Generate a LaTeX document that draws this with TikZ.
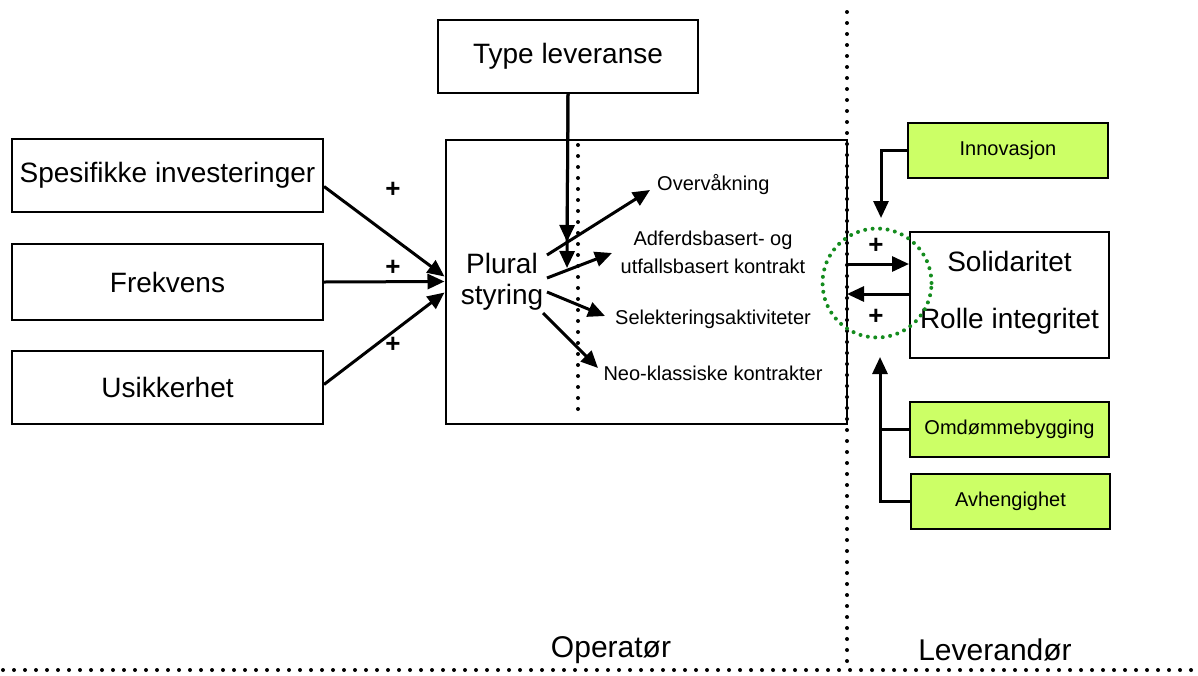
\documentclass[tikz,border=0pt]{standalone}
\usepackage{fontspec}
\setmainfont{Liberation Sans}
\usetikzlibrary{arrows.meta,calc}
\definecolor{limegreen}{RGB}{204,255,102}
\definecolor{dotgreen}{RGB}{20,140,30}
\begin{document}
\begin{tikzpicture}[x=1pt,y=-1pt,
  bigtxt/.style={font=\fontsize{28}{31}\selectfont},
  smalltxt/.style={font=\fontsize{20}{28}\selectfont},
  box/.style={draw,line width=2pt,inner sep=0pt,align=center},
  gbox/.style={box,fill=limegreen,smalltxt},
  arr/.style={line width=3pt,-{Triangle[length=17pt,width=15pt]}},
  conn/.style={line width=3pt},
  dotline/.style={line width=4pt,line cap=round,dash pattern=on 0pt off 11pt},
  plus/.style={font=\fontsize{26}{26}\selectfont\bfseries,inner sep=0pt}]
\useasboundingbox (0,0) rectangle (1198,675);
% dotted separators
\coordinate (vtop) at (847,12);
\coordinate (vbot) at (847,668);
\coordinate (hl) at (3,670);
\coordinate (hr) at (1198,670);
\draw[dotline] (vtop) -- (vbot);
\draw[dotline] (hl) -- (hr);
% left boxes
\node[box,bigtxt,minimum width=311pt,minimum height=73pt] (spes) at (167.5,175.5) {Spesifikke investeringer};
\node[box,bigtxt,minimum width=311pt,minimum height=76pt] (frek) at (167.5,282) {Frekvens};
\node[box,bigtxt,minimum width=311pt,minimum height=73pt] (usik) at (167.5,387.5) {Usikkerhet};
% main box
\node[box,minimum width=401pt,minimum height=284pt] (main) at (646,281.5) {};
\node[box,bigtxt,minimum width=260pt,minimum height=73pt] (type) at (568,56.5) {Type leveranse};
% inner dotted line
\coordinate (idt) at (578,145);
\coordinate (idb) at (578,414);
\draw[dotline] (idt) -- (idb);
% plural styring
\node[bigtxt,align=center,inner sep=0pt] (plural) at (502,282) {Plural\\styring};
% left arrows
\draw[arr] ($(spes.east)+(0,11)$) -- ($(main.west)+(0,-5)$);
\draw[arr] (frek.east) -- (main.west);
\draw[arr] ($(usik.east)+(0,-3)$) -- ($(main.west)+(0,11)$);
\node[plus] (p1) at (393,190) {+};
\node[plus] (p2) at (393,268) {+};
\node[plus] (p3) at (393,345) {+};
% type leveranse arrows
\coordinate (t1) at (567,242);
\coordinate (t2) at (567,268);
\draw[arr] (type.south) -- (t1);
\draw[arr] (type.south) -- (t2);
% outcome labels
\node[smalltxt,anchor=west,inner sep=0pt] (over) at (657,185) {Overvåkning};
\node[smalltxt,align=center,inner sep=0pt] (adf) at (713,252) {Adferdsbasert- og\\utfallsbasert kontrakt};
\node[smalltxt,inner sep=0pt] (sel) at (713,319) {Selekteringsaktiviteter};
\node[smalltxt,inner sep=0pt] (neo) at (713,373) {Neo-klassiske kontrakter};
\coordinate (o1s) at (547,255);
\coordinate (o1e) at (650,190);
\coordinate (o2s) at (547,278);
\coordinate (o2e) at (612,253);
\coordinate (o3s) at (547,292);
\coordinate (o3e) at (605,316);
\coordinate (o4s) at (543,313);
\coordinate (o4e) at (598,368);
\draw[arr] (o1s) -- (o1e);
\draw[arr] (o2s) -- (o2e);
\draw[arr] (o3s) -- (o3e);
\draw[arr] (o4s) -- (o4e);
% right side
\node[gbox,minimum width=200pt,minimum height=55pt] (inn) at (1008,150.5) {Innovasjon};
\node[box,bigtxt,minimum width=199pt,minimum height=126pt] (sol) at (1009.5,295) {};
\node[bigtxt,inner sep=0pt] (soltxt) at (1009.5,261) {Solidaritet};
\node[bigtxt,inner sep=0pt] (roltxt) at (1009.5,321) {Rolle integritet};
\node[gbox,minimum width=199pt,minimum height=55pt] (omd) at (1009.5,429.5) {Omdømmebygging};
\node[gbox,minimum width=199pt,minimum height=55pt] (avh) at (1010.5,501.5) {Avhengighet};
% connectors right
\coordinate (innend) at (881,218);
\draw[arr] (inn.west) -| (innend);
\coordinate (bend) at (880,357);
\coordinate (bjoin) at (880,501.5);
\draw[conn] (omd.west) -- (omd.west -| bend);
\draw[arr] (avh.west) -- (bjoin) -- (bend);
\coordinate (r1) at (847,264);
\coordinate (r2) at (847,294);
\draw[arr] (r1) -- (r1 -| sol.west);
\draw[arr] (r2 -| sol.west) -- (r2);
\node[plus] (p4) at (876,246) {+};
\node[plus] (p5) at (876,317) {+};
\node[draw=dotgreen,line width=4pt,line cap=round,dash pattern=on 0pt off 7.5pt,circle,minimum size=109pt,inner sep=0pt] (circ) at (877,283) {};
% bottom labels
\node[font=\fontsize{30}{30}\selectfont,inner sep=0pt] (oper) at (611,650) {Operatør};
\node[font=\fontsize{30}{30}\selectfont,inner sep=0pt] (lev) at (995,650) {Leverandør};
\end{tikzpicture}
\end{document}
